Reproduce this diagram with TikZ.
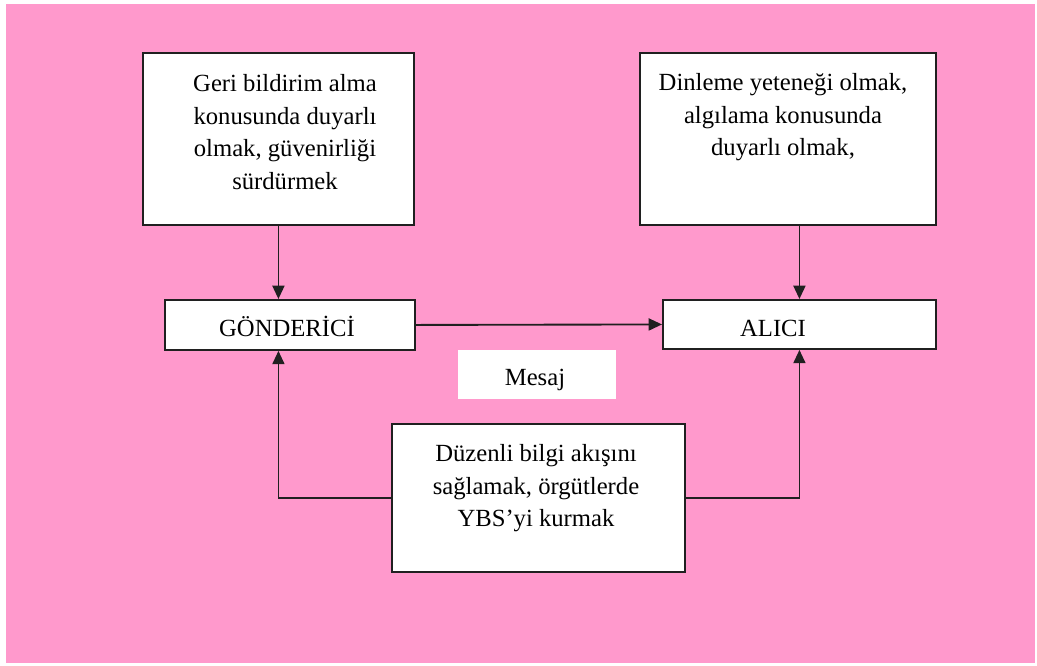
\documentclass[tikz,border=0pt]{standalone}
\usepackage{fontspec}
\setmainfont{Liberation Serif}
\usetikzlibrary{arrows.meta}
\definecolor{bgpink}{HTML}{FF99CC}
\definecolor{linegray}{HTML}{202020}
\begin{document}
\begin{tikzpicture}[x=0.75pt,y=-0.75pt,
  box/.style={draw=linegray, line width=1.4pt, fill=white, inner sep=0pt, anchor=north west},
  plainbox/.style={fill=white, inner sep=0pt, anchor=north west},
  txt/.style={font=\fontsize{18.5}{24.5}\selectfont, align=center, inner sep=0pt},
  arr/.style={draw=linegray, line width=1.4pt, -{Triangle[length=10pt,width=9pt]}}]
\useasboundingbox (0,0) rectangle (1037,665);
\fill[bgpink] (6,4) rectangle (1035,663);
% boxes
\node[box, minimum width={271*0.75pt}, minimum height={172*0.75pt}] (b1) at (142,52) {};
\node[box, minimum width={296*0.75pt}, minimum height={172*0.75pt}] (b2) at (639,52) {};
\node[box, minimum width={250*0.75pt}, minimum height={50*0.75pt}] (gon) at (164,299) {};
\node[box, minimum width={273*0.75pt}, minimum height={49*0.75pt}] (ali) at (662,299) {};
\node[plainbox, minimum width={158*0.75pt}, minimum height={49*0.75pt}] (mes) at (458,350) {};
\node[box, minimum width={293*0.75pt}, minimum height={148*0.75pt}] (bot) at (391,423) {};
% texts
\node[txt, anchor=north] (t1) at (285,74) {Geri bildirim alma\\konusunda duyarlı\\olmak, güvenirliği\\sürdürmek};
\node[txt, anchor=north] (t2) at (783,73) {Dinleme yeteneği olmak,\\algılama konusunda\\duyarlı olmak,};
\node[txt, anchor=base] (tg) at (287,336) {GÖNDERİCİ};
\node[txt, anchor=base] (ta) at (773,336) {ALICI};
\node[txt, anchor=base] (tm) at (535,385) {Mesaj};
\node[txt, anchor=north] (tb) at (536,444) {Düzenli bilgi akışını\\sağlamak, örgütlerde\\YBS’yi kurmak};
% connectors
\draw[arr] (b1.south) -- (b1.south |- gon.north);
\draw[arr] (b2.south -| ali.north) -- (ali.north);
\draw[arr] (gon.east) -- (ali.west);
\draw[arr] (bot.west) -| (b1.south |- gon.south);
\draw[arr] (bot.east) -| (ali.south);
\end{tikzpicture}
\end{document}
